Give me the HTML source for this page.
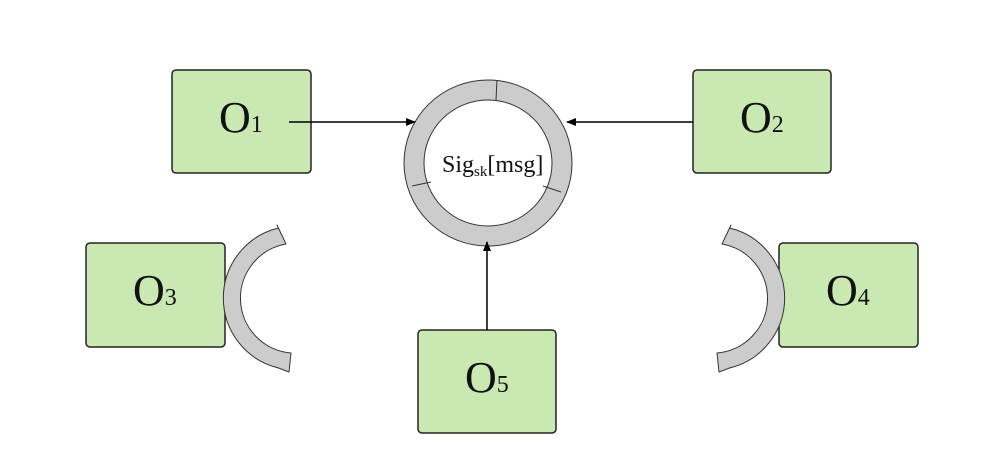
<!DOCTYPE html>
<html><head><style>body{margin:0;background:#fff}svg{display:block}</style></head><body>
<svg width="984" height="473" viewBox="0 0 984 473" xmlns="http://www.w3.org/2000/svg" font-family="Liberation Serif, serif">
<defs><marker id="a" markerWidth="10" markerHeight="8" refX="9" refY="4" orient="auto" markerUnits="userSpaceOnUse"><path d="M0,0 L10,4 L0,8z" fill="#000"/></marker></defs>
<g fill="#c9e8b2" stroke="#222" stroke-width="1.5">
<rect x="172" y="70" width="139" height="103" rx="4"/>
<rect x="693" y="70" width="138" height="103" rx="4"/>
<rect x="86" y="243" width="139" height="104" rx="4"/>
<rect x="779" y="243" width="139" height="104" rx="4"/>
<rect x="418" y="330" width="138" height="103" rx="4"/>
</g>
<g font-size="44" fill="#111">
<text x="219" y="132">O<tspan font-size="24">1</tspan></text>
<text x="740" y="132">O<tspan font-size="24">2</tspan></text>
<text x="133" y="305">O<tspan font-size="24">3</tspan></text>
<text x="826" y="305">O<tspan font-size="24">4</tspan></text>
<text x="465" y="392">O<tspan font-size="24">5</tspan></text>
</g>
<g fill="#cccccc" stroke="#333" stroke-width="1">
<path fill-rule="evenodd" d="M404,163 a84,83 0 1,0 168,0 a84,83 0 1,0 -168,0z M424,163 a64,63 0 1,0 128,0 a64,63 0 1,0 -128,0z"/>
<path d="M278.5,228 A72,72 0 0,0 278.5,368 L289,372 L291,353 A55,55 0 0,1 286,244 L277,225z" stroke-linejoin="round"/>
<path d="M729.5,228 A72,72 0 0,1 729.5,368 L719,372 L717,353 A55,55 0 0,0 722,244 L731,225z" stroke-linejoin="round"/>
</g>
<g stroke="#333" stroke-width="1">
<line x1="497" y1="80" x2="496" y2="100"/>
<line x1="412" y1="186" x2="431" y2="182"/>
<line x1="543" y1="186" x2="561" y2="192"/>
</g>
<text x="442" y="172" font-size="24" fill="#111">Sig<tspan font-size="15" dy="4">sk</tspan><tspan dy="-4">[msg]</tspan></text>
<g stroke="#000" stroke-width="1.5" fill="none">
<line x1="289" y1="122" x2="415" y2="122" marker-end="url(#a)"/>
<line x1="693" y1="122" x2="567" y2="122" marker-end="url(#a)"/>
<line x1="487" y1="330" x2="487" y2="242" marker-end="url(#a)"/>
</g>
</svg>
</body></html>
